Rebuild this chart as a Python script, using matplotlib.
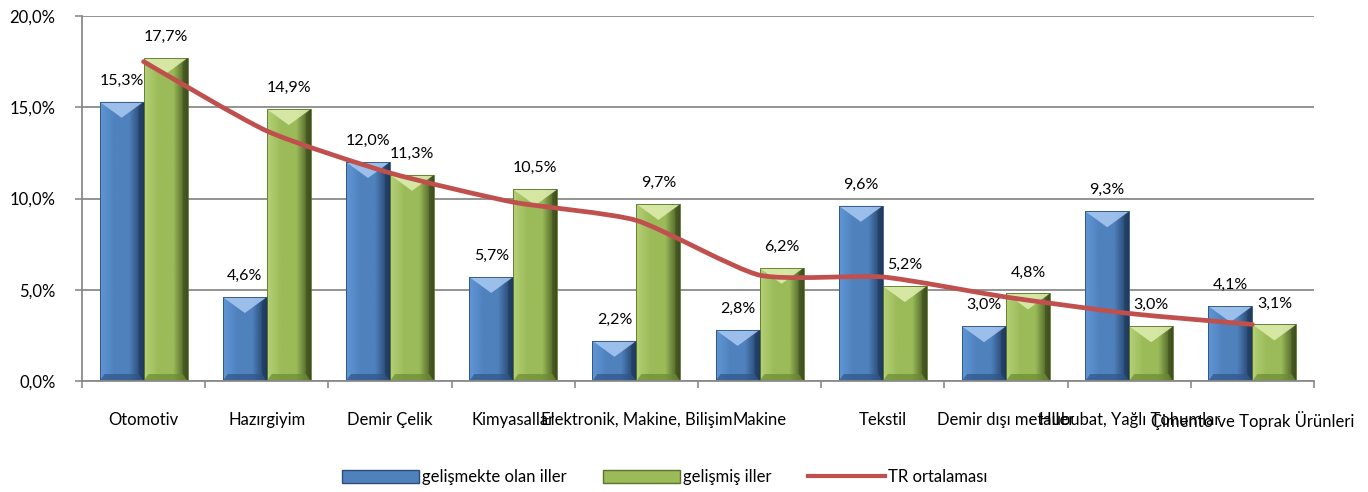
import numpy as np
import matplotlib
matplotlib.use("Agg")
import matplotlib.pyplot as plt
from matplotlib.path import Path
from matplotlib.patches import PathPatch, Polygon, Rectangle, Patch
from matplotlib.lines import Line2D
from matplotlib.colors import LinearSegmentedColormap

plt.rcParams['font.family'] = ['Lato', 'DejaVu Sans']

categories = ["Otomotiv", "Hazırgiyim", "Demir Çelik", "Kimyasallar",
              "Elektronik, Makine, Bilişim", "Makine", "Tekstil",
              "Demir dışı metaller", "Hububat, Yağlı Tohumlar",
              "Çimento ve Toprak Ürünleri"]
gelismekte = [15.3, 4.6, 12.0, 5.7, 2.2, 2.8, 9.6, 3.0, 9.3, 4.1]
gelismis = [17.7, 14.9, 11.3, 10.5, 9.7, 6.2, 5.2, 4.8, 3.0, 3.1]
tr_ort = [17.5, 13.7, 11.4, 9.8, 8.8, 5.8, 5.7, 4.6, 3.7, 3.1]
yticks = [0, 5, 10, 15, 20]
series_names = ["gelişmekte olan iller", "gelişmiş iller", "TR ortalaması"]

W, H = 1368, 492
fig = plt.figure(figsize=(W / 100, H / 100), dpi=100)
ax = fig.add_axes([82 / W, 1 - 381 / H, (1314 - 82) / W, (381 - 16) / H])

n = len(categories)
x = np.arange(n)
bw = 0.357
grid_col = "#8a8a8a"

blue = dict(left="#6096d6", mid="#4f81bd", right="#1f3a5e", top="#a4c6f0", bot="#2f5587", edge="#2c4d7a")
green = dict(left="#b4d176", mid="#9bbb59", right="#3f4f1e", top="#dcecac", bot="#6c8a32", edge="#5a7229")

px_x = (1314 - 82) / n      # pixels per data x unit
px_y = (381 - 16) / 20.0    # pixels per percent


def bevel_bar(x0, h, c):
    x1 = x0 + bw
    cmap = LinearSegmentedColormap.from_list("g", [c["left"], c["mid"], c["mid"], c["right"]])
    grad = np.linspace(0, 1, 64).reshape(1, -1)
    rect = Rectangle((x0, 0), bw, h, facecolor="none", edgecolor="none")
    ax.add_patch(rect)
    im = ax.imshow(grad, cmap=cmap, extent=(x0, x1, 0, h), aspect="auto", zorder=2,
                   interpolation="bilinear")
    im.set_clip_path(rect)
    dy = 16 / px_y
    db = 7 / px_y
    dx = 5 / px_x
    xc = (x0 + x1) / 2
    # top light chevron
    ax.add_patch(Polygon([(x0, h), (x1, h), (xc, h - dy)],
                         closed=True, facecolor=c["top"], edgecolor="none", alpha=0.9, zorder=2.1))
    # right dark strip
    ax.add_patch(Polygon([(x1, h), (x1 - dx, h - dy * 0.35), (x1 - dx, db), (x1, 0)],
                         closed=True, facecolor=c["right"], edgecolor="none", alpha=0.6, zorder=2.1))
    # bottom dark band
    ax.add_patch(Polygon([(x0, 0), (x1, 0), (x1 - dx, db), (x0 + dx, db)],
                         closed=True, facecolor=c["bot"], edgecolor="none", alpha=0.7, zorder=2.1))
    ax.add_patch(Rectangle((x0, 0), bw, h, facecolor="none", edgecolor=c["edge"], lw=0.6, zorder=2.2))


for i in range(n):
    bevel_bar(x[i] - bw, gelismekte[i], blue)
    bevel_bar(x[i], gelismis[i], green)
    for xv, v in ((x[i] - bw / 2, gelismekte[i]), (x[i] + bw / 2, gelismis[i])):
        ax.annotate(f"{v:.1f}%".replace(".", ","), (xv, v), xytext=(0, 21),
                    textcoords="offset pixels", ha="center", va="center",
                    fontsize=11.5, color="black", zorder=6)

# lightly smoothed line (cubic Bezier segments through the data points)
P = np.column_stack([x, tr_ort]).astype(float)
verts = [tuple(P[0])]
codes = [Path.MOVETO]
k = 10.0
for i in range(n - 1):
    p0 = P[i - 1] if i > 0 else P[i]
    p1, p2 = P[i], P[i + 1]
    p3 = P[i + 2] if i + 2 < n else P[i + 1]
    c1 = p1 + (p2 - p0) / k
    c2 = p2 - (p3 - p1) / k
    verts += [tuple(c1), tuple(c2), tuple(p2)]
    codes += [Path.CURVE4] * 3
ax.add_patch(PathPatch(Path(verts, codes), facecolor="none", edgecolor="#c0504d",
                       lw=3.4, capstyle="round", joinstyle="round", zorder=4))

ax.set_xlim(-0.5, n - 0.5)
ax.set_ylim(0, 20)
ax.set_yticks(yticks)
ax.set_yticklabels([f"{v:.1f}%".replace(".", ",") for v in yticks], fontsize=12)
ax.yaxis.grid(True, color=grid_col, lw=1.3)
ax.set_axisbelow(True)
ax.set_xticks(np.arange(n + 1) - 0.5)
ax.set_xticklabels([])
ax.set_xticks(x, minor=True)
ax.set_xticklabels(categories, minor=True, fontsize=12)
ax.tick_params(axis="x", which="minor", length=0, pad=22)
ax.tick_params(axis="x", which="major", length=5, color=grid_col, width=1.2)
ax.tick_params(axis="y", length=5, color=grid_col, width=1.2, pad=14)
for s in ("top", "right"):
    ax.spines[s].set_visible(False)
for s in ("left", "bottom"):
    ax.spines[s].set_color(grid_col)
    ax.spines[s].set_linewidth(1.3)

handles = [Patch(facecolor=blue["mid"], edgecolor=blue["edge"]),
           Patch(facecolor=green["mid"], edgecolor=green["edge"]),
           Line2D([0], [0], color="#c0504d", lw=3)]
fig.legend(handles, series_names, loc="center", bbox_to_anchor=(0.486, 1 - 477 / H),
           ncol=3, frameon=False, fontsize=12, handlelength=4.6, handleheight=0.85,
           columnspacing=2.2, handletextpad=0.2)

fig.savefig("out.png", dpi=100)
